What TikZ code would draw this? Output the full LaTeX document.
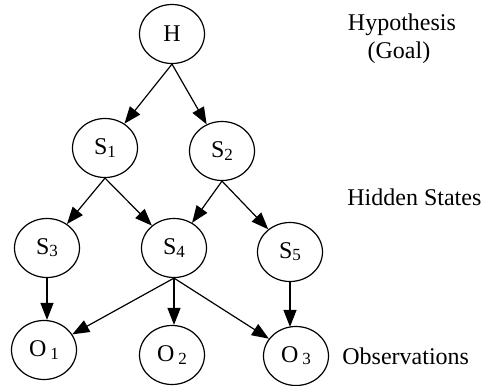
\documentclass[tikz,border=0pt]{standalone}
\usepackage{fontspec}
\setmainfont{Liberation Serif}
\usetikzlibrary{shapes.geometric,arrows.meta}
\newcommand{\subd}[1]{\raisebox{-0.2ex}{\fontsize{8.5}{9}\selectfont #1}}
\tikzset{
  st/.style={draw, ellipse, line width=0.6pt, minimum width=32.5pt, minimum height=29.5pt, inner sep=0pt, font=\fontsize{12}{13}\selectfont},
  ar/.style={line width=0.6pt, -{Triangle[length=8.5pt,width=6.5pt]}},
  lab/.style={font=\fontsize{12}{13}\selectfont, inner sep=0pt}
}
\begin{document}
\begin{tikzpicture}[x=0.5pt,y=-0.5pt]
\useasboundingbox (0,0) rectangle (484,386);
\node[st] (H) at (172,34) {H};
\node[st] (S1) at (105,148) {S\subd{1}};
\node[st] (S2) at (222,151) {S\subd{2}};
\node[st] (S3) at (47,248) {S\subd{3}};
\node[st] (S4) at (174,248) {S\subd{4}};
\node[st] (S5) at (290,252) {S\subd{5}};
\node[st] (O1) at (44,350) {O\,\subd{1}};
\node[st] (O2) at (172,355) {O\,\subd{2}};
\node[st] (O3) at (296,356) {O\,\subd{3}};
\node[lab] (hyp) at (402,25) {Hypothesis};
\node[lab] (goal) at (399,53) {(Goal)};
\node[lab, anchor=west] (hid) at (347,197) {Hidden States};
\node[lab, anchor=west] (obs) at (342,356) {Observations};
\draw[ar] (H.south) -- (S1);
\draw[ar] (H.south) -- (S2);
\draw[ar] (S1.south) -- (S3);
\draw[ar] (S1.south) -- (S4);
\draw[ar] (S2.south) -- (S4);
\draw[ar] (S2.south) -- (S5);
\draw[ar] (S3.south) -- (S3.south |- O1.north);
\draw[ar] (S4.south) -- (O1);
\draw[ar] (S4.south) -- (S4.south |- O2.north);
\draw[ar] (S4.south) -- (O3);
\draw[ar] (S5.south) -- ([yshift=-0.5pt]S5.south |- O3.north);
\end{tikzpicture}
\end{document}
